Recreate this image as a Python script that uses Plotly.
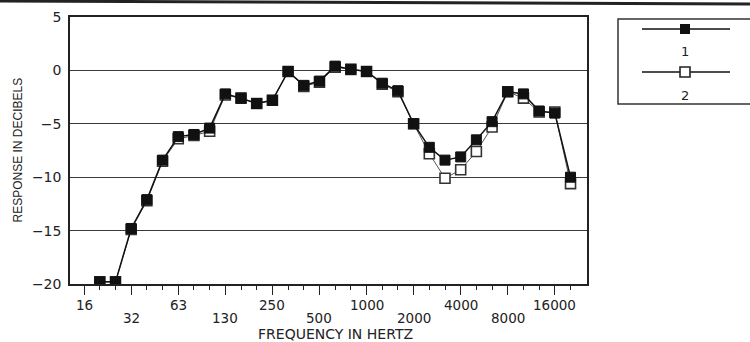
import plotly.graph_objects as go

# 1/3-octave band centres (Hz) on the axis, 16 Hz .. 20 kHz
all_bands = ["16", "20", "25", "31.5", "40", "50", "63", "80", "100", "125", "160", "200",
             "250", "315", "400", "500", "630", "800", "1000", "1250", "1600", "2000",
             "2500", "3150", "4000", "5000", "6300", "8000", "10000", "12500", "16000", "20000"]

# measured bands
bands = all_bands[1:]

series1 = [-19.8, -19.8, -14.8, -12.1, -8.4, -6.2, -6.0, -5.4, -2.2, -2.6, -3.1, -2.8,
           -0.1, -1.4, -1.0, 0.4, 0.1, -0.1, -1.2, -1.9, -5.0, -7.2, -8.4, -8.1, -6.5,
           -4.8, -2.0, -2.2, -3.8, -4.0, -10.0]
series2 = [-19.8, -19.8, -14.9, -12.2, -8.5, -6.4, -6.1, -5.7, -2.3, -2.6, -3.1, -2.8,
           -0.1, -1.5, -1.1, 0.3, 0.1, -0.1, -1.3, -2.0, -5.0, -7.8, -10.1, -9.3, -7.6,
           -5.3, -2.0, -2.6, -3.9, -3.9, -10.6]

# octave tick labels (upper / lower staggered rows)
tick_labels_upper = ["16", "63", "250", "1000", "4000", "16000"]
tick_pos_upper = ["16", "63", "250", "1000", "4000", "16000"]
tick_labels_lower = ["32", "130", "500", "2000", "8000"]
tick_pos_lower = ["31.5", "125", "500", "2000", "8000"]

y_ticks = [5, 0, -5, -10, -15, -20]
y_tick_text = ["5", "0", "\u22125", "\u221210", "\u221215", "\u221220"]

series_names = ["1", "2"]

xi = lambda b: all_bands.index(b)
x_vals = [xi(b) for b in bands]

FONT = "DejaVu Sans"
W, H = 750, 342
ML, MR, MT, MB = 70, 0, 17, 58
plot_w = W - ML - MR
main_right = 587

fig = go.Figure()

# series 2 (open) first so series 1 sits on top
fig.add_trace(go.Scatter(
    x=x_vals, y=series2, mode="lines+markers", name=series_names[1],
    line=dict(color="#555555", width=1),
    marker=dict(symbol="square", size=10, color="white", line=dict(color="#333333", width=1.6)),
    showlegend=False))
fig.add_trace(go.Scatter(
    x=x_vals, y=series1, mode="lines+markers", name=series_names[0],
    line=dict(color="#111111", width=1.5),
    marker=dict(symbol="square", size=10, color="#111111", line=dict(color="#111111", width=1)),
    showlegend=False))

# legend drawn in a pixel-scaled overlay axis
leg_x = [642, 685, 730]
fig.add_trace(go.Scatter(x=leg_x, y=[29, 29, 29], xaxis="x2", yaxis="y2", mode="lines",
                         line=dict(color="#111111", width=1.3), showlegend=False, hoverinfo="skip"))
fig.add_trace(go.Scatter(x=[685], y=[29], xaxis="x2", yaxis="y2", mode="markers",
                         marker=dict(symbol="square", size=10, color="#111111"),
                         showlegend=False, hoverinfo="skip"))
fig.add_trace(go.Scatter(x=leg_x, y=[72, 72, 72], xaxis="x2", yaxis="y2", mode="lines",
                         line=dict(color="#111111", width=1.3), showlegend=False, hoverinfo="skip"))
fig.add_trace(go.Scatter(x=[685], y=[72], xaxis="x2", yaxis="y2", mode="markers",
                         marker=dict(symbol="square", size=10, color="white",
                                     line=dict(color="#222222", width=1.6)),
                         showlegend=False, hoverinfo="skip"))

annotations = []
for lab, pos in zip(tick_labels_upper, tick_pos_upper):
    annotations.append(dict(x=xi(pos), y=0, xref="x", yref="paper", text=lab, showarrow=False,
                            yanchor="middle", yshift=-21, borderpad=0,
                            font=dict(family=FONT, size=13.5, color="#222")))
for lab, pos in zip(tick_labels_lower, tick_pos_lower):
    annotations.append(dict(x=xi(pos), y=0, xref="x", yref="paper", text=lab, showarrow=False,
                            yanchor="middle", yshift=-33.5, borderpad=0,
                            font=dict(family=FONT, size=13.5, color="#222")))
annotations.append(dict(x=(335 - ML) / plot_w, y=0, xref="paper", yref="paper",
                        text="FREQUENCY IN HERTZ", showarrow=False, yanchor="middle", yshift=-49.5,
                        borderpad=0, font=dict(family=FONT, size=14, color="#222")))
annotations.append(dict(x=(17 - ML) / plot_w, y=0.5, xref="paper", yref="paper",
                        text="RESPONSE IN DECIBELS", showarrow=False, textangle=-90,
                        xanchor="center", yanchor="middle", borderpad=0,
                        font=dict(family="Liberation Sans, sans-serif", size=12, color="#222")))
annotations.append(dict(x=685, y=51, xref="x2", yref="y2", text=series_names[0], showarrow=False,
                        font=dict(family=FONT, size=13, color="#222")))
annotations.append(dict(x=685, y=95, xref="x2", yref="y2", text=series_names[1], showarrow=False,
                        font=dict(family=FONT, size=13, color="#222")))

shapes = [
    dict(type="rect", xref="x2", yref="y2", x0=618, x1=760, y0=19, y1=104,
         line=dict(color="#333333", width=1.5)),
    dict(type="line", xref="paper", yref="paper",
         x0=(0 - ML) / plot_w, x1=(W - ML) / plot_w,
         y0=(284 - 1) / 267, y1=(284 - 4) / 267,
         line=dict(color="#222222", width=3)),
]

fig.update_layout(
    width=W, height=H,
    margin=dict(l=ML, r=MR, t=MT, b=MB),
    paper_bgcolor="white", plot_bgcolor="white",
    showlegend=False,
    xaxis=dict(domain=[0, (main_right - ML) / plot_w], range=[-0.9, 32.05],
               showgrid=False, zeroline=False, showline=True, mirror=True,
               linecolor="#222222", linewidth=1.5,
               tickmode="array", tickvals=list(range(0, 32, 3)), showticklabels=False,
               ticks="outside", ticklen=9, tickwidth=1.3, tickcolor="#222222",
               minor=dict(tickmode="array", tickvals=list(range(0, 32)), ticks="outside", ticklen=4,
                          tickwidth=1.2, tickcolor="#222222", showgrid=False)),
    yaxis=dict(range=[-20, 5], tickmode="array", tickvals=y_ticks, ticktext=y_tick_text,
               showgrid=True, gridcolor="#3a3a3a", gridwidth=1, zeroline=False,
               showline=True, mirror=True, linecolor="#222222", linewidth=1.5,
               ticks="", ticklabelstandoff=4,
               tickfont=dict(family=FONT, size=14, color="#222")),
    xaxis2=dict(domain=[(600 - ML) / plot_w, 1], range=[600, 750], visible=False, anchor="y2"),
    yaxis2=dict(domain=[0, 1], range=[284, 17], visible=False, anchor="x2"),
    annotations=annotations,
    shapes=shapes,
)

fig.write_html("out.html", config={"displayModeBar": False},
               post_script="document.body.style.margin='0';document.body.style.padding='0';")
